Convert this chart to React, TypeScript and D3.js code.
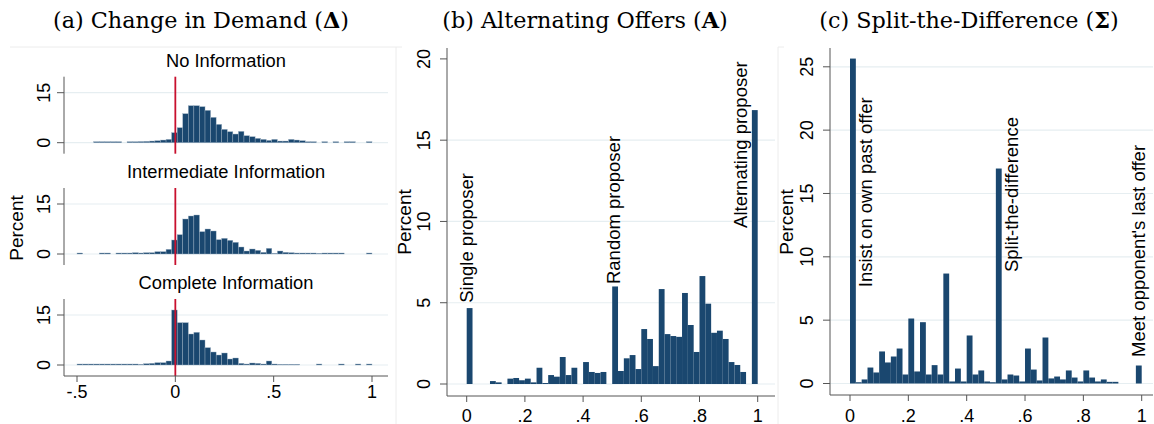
import React from "react";
import * as d3 from "d3";

// ---------- DATA ----------
// Panel (a): histograms of change in demand, 53 bins from -0.5 to 1
const deltaBinStart = -0.5;
const deltaBinWidth = 1.5 / 53;
const noInformation = [
  0, 0, 0, 0.3, 0.3, 0.3, 0.3, 0.3, 0, 0.3, 0.3, 0.35, 0.4, 0.5, 0.6, 0.8, 1.0,
  3.0, 4.5, 8.7, 11.1, 11.1, 10.8, 9.7, 7.6, 5.5, 4.0, 3.3, 2.6, 3.4, 2.1, 1.8,
  1.3, 1.0, 0.7, 1.0, 0.5, 0.5, 1.0, 0.8, 0.6, 0.3, 0.3, 0, 0.3, 0, 0.3, 0, 0.3,
  0.3, 0, 0, 0.3,
];
const intermediateInformation = [
  0.3, 0, 0, 0, 0.3, 0.3, 0, 0.3, 0.3, 0.3, 0.4, 0.3, 0.4, 0.4, 0.7, 0.7, 1.4,
  4.2, 5.8, 10.5, 11.4, 11.7, 6.7, 7.5, 6.9, 4.3, 4.7, 4.1, 3.5, 2.1, 0.9, 1.5,
  1.1, 0.5, 1.7, 0.2, 0.9, 0.5, 0.4, 0.3, 0.3, 0.3, 0.3, 0.2, 0.3, 0.3, 0.3, 0.3,
  0, 0, 0, 0, 0.3,
];
const completeInformation = [
  0.3, 0.3, 0.3, 0.3, 0.3, 0.3, 0.3, 0.3, 0.3, 0.3, 0.3, 0.2, 0.4, 0.5, 0.7, 0.7,
  1.2, 16.5, 12.7, 12.7, 9.3, 9.8, 7.5, 5.2, 3.9, 3.0, 3.6, 1.8, 2.1, 0.5, 0.3,
  0.6, 0.5, 0.3, 1.2, 0.3, 0.2, 0.2, 0.2, 0.2, 0, 0, 0, 0.3, 0, 0, 0, 0.3, 0, 0,
  0.3, 0, 0.3,
];
const deltaSeries = [noInformation, intermediateInformation, completeInformation];
const deltaTitles = ["No Information", "Intermediate Information", "Complete Information"];
const deltaTicksX = [-0.5, 0, 0.5, 1];
const deltaTickLabelsX = ["-.5", "0", ".5", "1"];
const deltaTicksY = [0, 15];

// Panels (b) and (c): 50 bins of width 0.02 on [0,1]
const unitBinWidth = 0.02;
const alternatingOffers = [
  4.67, 0, 0, 0, 0.18, 0.1, 0, 0.33, 0.37, 0.23, 0.33, 0.1, 1.0, 0.06, 0.55, 0.45,
  1.66, 0.55, 1.0, 0, 1.35, 0.74, 0.68, 0.74, 0, 6.0, 0.8, 1.58, 1.78, 0.92, 3.38,
  2.77, 1.1, 5.84, 3.07, 2.95, 2.9, 5.6, 3.63, 1.97, 6.64, 4.94, 3.15, 3.28, 2.77,
  1.35, 1.17, 0.74, 0, 16.85,
];
const splitTheDifference = [
  25.65, 0.1, 0.32, 1.26, 0.87, 2.53, 1.66, 2.13, 2.76, 0.71, 5.13, 0.95, 4.84,
  0.71, 1.45, 0.71, 8.68, 0.16, 1.18, 0.16, 3.79, 0.71, 1.03, 0.16, 0.1, 16.97,
  0.32, 0.71, 0.63, 0.16, 2.76, 1.1, 0.24, 3.63, 0.4, 0.55, 0.32, 1.03, 0.47, 0.16,
  1.03, 0.47, 0.16, 0.32, 0.13, 0.13, 0, 0, 0, 1.42,
];
const unitTicksX = [0, 0.2, 0.4, 0.6, 0.8, 1];
const unitTickLabelsX = ["0", ".2", ".4", ".6", ".8", "1"];
const aoTicksY = [0, 5, 10, 15, 20];
const aoGridY = [0, 5, 10, 15];
const sdTicksY = [0, 5, 10, 15, 20, 25];
const aoNotes = [
  { label: "Single proposer", x: 0.02, y: 5.0 },
  { label: "Random proposer", x: 0.527, y: 6.15 },
  { label: "Alternating proposer", x: 0.963, y: 9.6 },
];
const sdNotes = [
  { label: "Insist on own past offer", x: 0.075, y: 7.6 },
  { label: "Split-the-difference", x: 0.576, y: 8.8 },
  { label: "Meet opponent's last offer", x: 1.01, y: 2.1 },
];

// ---------- STYLE ----------
const BAR = "#1a476f";
const GRID = "#e6eef1";
const AXIS = "#555555";
const SANS = "'Liberation Sans', Arial, Helvetica, sans-serif";
const SERIF = "'DejaVu Serif', 'Liberation Serif', serif";
const TXT = "#000";

function Bars({ values, start, width, x, y, stroke }: any) {
  return (
    <g>
      {values.map((v: number, i: number) => {
        if (v <= 0) return null;
        const x0 = x(start + i * width);
        const x1 = x(start + (i + 1) * width);
        const y0 = y(0);
        const yv = y(v);
        return (
          <rect
            key={i}
            x={x0}
            y={yv}
            width={x1 - x0}
            height={y0 - yv}
            fill={BAR}
            stroke={stroke || "none"}
            strokeWidth={stroke ? 0.4 : 0}
          />
        );
      })}
    </g>
  );
}

function RotLabel({ x, y, text, size = 18, anchor = "middle" }: any) {
  return (
    <text
      transform={`translate(${x},${y}) rotate(-90)`}
      textAnchor={anchor}
      fontFamily={SANS}
      fontSize={size}
      fill={TXT}
    >
      {text}
    </text>
  );
}

export default function App() {
  // Panel (a)
  const xA = d3.scaleLinear().domain([-0.5, 1]).range([77, 372]);
  const aLeft = 64;
  const aRight = 388;
  const aZero = [142.7, 254, 365];
  const aSubs = aZero.map((z) => ({
    y: d3.scaleLinear().domain([0, 15]).range([z, z - 50]),
    top: z - 66,
    bottom: z + 11,
  }));
  const aAxisY = aSubs[2].bottom;

  // Panel (b)
  const xB = d3.scaleLinear().domain([0, 1]).range([466.7, 757.7]);
  const yB = d3.scaleLinear().domain([0, 20]).range([384, 58.9]);
  const bLeft = 447, bRight = 775, bTop = 48, bBottom = 396;

  // Panel (c)
  const xC = d3.scaleLinear().domain([0, 1]).range([850, 1141.7]);
  const yC = d3.scaleLinear().domain([0, 25]).range([383.5, 66.8]);
  const cLeft = 830, cRight = 1153, cTop = 48, cBottom = 395;

  return (
    <div style={{ position: "absolute", left: 0, top: 0 }}>
      <svg width={1154} height={424} style={{ display: "block", background: "#fff" }}>
        {/* faint panel borders */}
        <line x1={10} x2={396} y1={47} y2={47} stroke="#ececec" />
        <line x1={396} x2={396} y1={47} y2={424} stroke="#ececec" />
        <line x1={396} x2={402} y1={47} y2={47} stroke="#ececec" />
        <line x1={778} x2={778} y1={47} y2={424} stroke="#ececec" />
        <line x1={778} x2={784} y1={47} y2={47} stroke="#ececec" />

        {/* Titles */}
        <text x={201} y={28} textAnchor="middle" fontFamily={SERIF} fontSize={22.3} fill={TXT}>
          (a) Change in Demand (<tspan fontWeight="bold">Δ</tspan>)
        </text>
        <text x={585} y={28} textAnchor="middle" fontFamily={SERIF} fontSize={22.3} fill={TXT}>
          (b) Alternating Offers (<tspan fontWeight="bold">A</tspan>)
        </text>
        <text x={969} y={28} textAnchor="middle" fontFamily={SERIF} fontSize={22.3} fill={TXT}>
          (c) Split-the-Difference (<tspan fontWeight="bold">Σ</tspan>)
        </text>

        {/* ---------- Panel (a) ---------- */}
        {aSubs.map((s, k) => (
          <g key={k}>
            {deltaTicksY.map((t) => (
              <line key={t} x1={aLeft} x2={aRight} y1={s.y(t)} y2={s.y(t)} stroke={GRID} strokeWidth={1.2} />
            ))}
            <Bars values={deltaSeries[k]} start={deltaBinStart} width={deltaBinWidth} x={xA} y={s.y} stroke="#9fb2c4" />
            <line x1={xA(0)} x2={xA(0)} y1={s.top} y2={s.bottom} stroke="#c8102e" strokeWidth={1.8} />
            <line x1={aLeft} x2={aLeft} y1={s.top} y2={s.bottom} stroke={AXIS} strokeWidth={1} />
            {deltaTicksY.map((t) => (
              <g key={t}>
                <line x1={aLeft - 7} x2={aLeft} y1={s.y(t)} y2={s.y(t)} stroke={AXIS} />
                <RotLabel x={50} y={s.y(t)} text={String(t)} />
              </g>
            ))}
            <text x={(aLeft + aRight) / 2} y={s.top - 10} textAnchor="middle" fontFamily={SANS} fontSize={18.3} fill={TXT}>
              {deltaTitles[k]}
            </text>
          </g>
        ))}
        <line x1={aLeft} x2={aRight} y1={aAxisY} y2={aAxisY} stroke={AXIS} />
        {deltaTicksX.map((t, i) => (
          <g key={t}>
            <line x1={xA(t)} x2={xA(t)} y1={aAxisY} y2={aAxisY + 6} stroke={AXIS} />
            <text x={xA(t)} y={aAxisY + 21.5} textAnchor="middle" fontFamily={SANS} fontSize={18} fill={TXT}>
              {deltaTickLabelsX[i]}
            </text>
          </g>
        ))}
        <RotLabel x={23} y={228} text="Percent" size={19} />

        {/* ---------- Panel (b) ---------- */}
        {aoGridY.map((t) => (
          <line key={t} x1={bLeft} x2={bRight} y1={yB(t)} y2={yB(t)} stroke={GRID} strokeWidth={1.2} />
        ))}
        <Bars values={alternatingOffers} start={0} width={unitBinWidth} x={xB} y={yB} />
        <line x1={bLeft} x2={bLeft} y1={bTop} y2={bBottom} stroke={AXIS} />
        <line x1={bLeft} x2={bRight} y1={bBottom} y2={bBottom} stroke={AXIS} />
        {aoTicksY.map((t) => (
          <g key={t}>
            <line x1={bLeft - 7} x2={bLeft} y1={yB(t)} y2={yB(t)} stroke={AXIS} />
            <RotLabel x={430} y={yB(t)} text={String(t)} />
          </g>
        ))}
        {unitTicksX.map((t, i) => (
          <g key={t}>
            <line x1={xB(t)} x2={xB(t)} y1={bBottom} y2={bBottom + 6} stroke={AXIS} />
            <text x={xB(t)} y={421.5} textAnchor="middle" fontFamily={SANS} fontSize={18} fill={TXT}>
              {unitTickLabelsX[i]}
            </text>
          </g>
        ))}
        <RotLabel x={411} y={222} text="Percent" size={19} />
        {aoNotes.map((n) => (
          <RotLabel key={n.label} x={xB(n.x)} y={yB(n.y)} text={n.label} anchor="start" size={18.5} />
        ))}

        {/* ---------- Panel (c) ---------- */}
        {sdTicksY.map((t) => (
          <line key={t} x1={cLeft} x2={cRight} y1={yC(t)} y2={yC(t)} stroke={GRID} strokeWidth={1.2} />
        ))}
        <Bars values={splitTheDifference} start={0} width={unitBinWidth} x={xC} y={yC} />
        <line x1={cLeft} x2={cLeft} y1={cTop} y2={cBottom} stroke={AXIS} />
        <line x1={cLeft} x2={cRight} y1={cBottom} y2={cBottom} stroke={AXIS} />
        {sdTicksY.map((t) => (
          <g key={t}>
            <line x1={cLeft - 7} x2={cLeft} y1={yC(t)} y2={yC(t)} stroke={AXIS} />
            <RotLabel x={813} y={yC(t)} text={String(t)} />
          </g>
        ))}
        {unitTicksX.map((t, i) => (
          <g key={t}>
            <line x1={xC(t)} x2={xC(t)} y1={cBottom} y2={cBottom + 6} stroke={AXIS} />
            <text x={xC(t)} y={421.5} textAnchor="middle" fontFamily={SANS} fontSize={18} fill={TXT}>
              {unitTickLabelsX[i]}
            </text>
          </g>
        ))}
        <RotLabel x={793} y={222} text="Percent" size={19} />
        {sdNotes.map((n) => (
          <RotLabel key={n.label} x={xC(n.x)} y={yC(n.y)} text={n.label} anchor="start" size={18.5} />
        ))}
      </svg>
    </div>
  );
}
